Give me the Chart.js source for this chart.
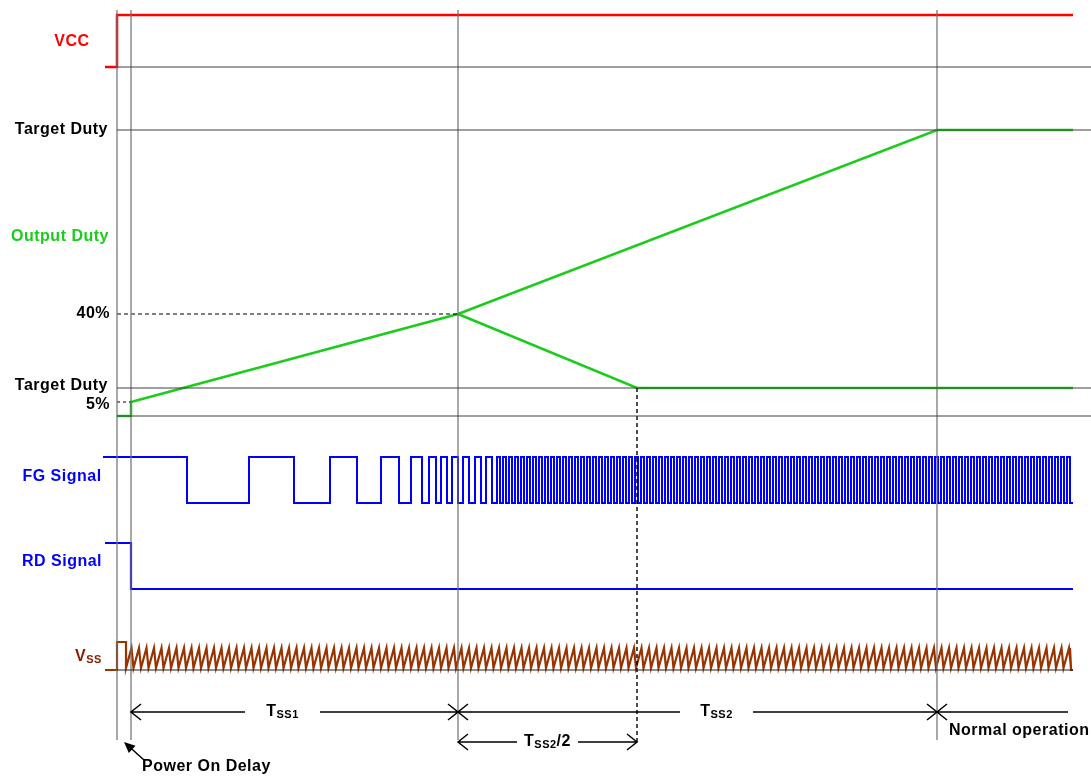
<!DOCTYPE html>
<html lang="en">
<head>
<meta charset="UTF-8">
<title>Soft Start Timing</title>
<script src="https://cdn.jsdelivr.net/npm/chart.js"></script>
<style>
  * { margin: 0; padding: 0; }
  body { background: #fff; width: 1091px; height: 776px; overflow: hidden; }
  canvas { display: block; }
</style>
</head>
<body>
<canvas id="timing" width="1091" height="776"></canvas>
<script>
// time marks (x units, 0 = power on)
const markTimes = [0, 14, 341, 820];          // power on, delay end, Tss1 end, Tss2 end
const halfTime = 520;                          // Tss2/2
const startTime = -12, stopTime = 956, edgeTime = 974;

// lane baselines (y units from the bottom)
const laneNames = ['vcc', 'duty', 'fg', 'rd', 'vss'];
const laneBase = [709, 360, 273, 187, 106];
const base = Object.fromEntries(laneNames.map((n, i) => [n, laneBase[i]]));

// VCC
const vccTimes = [startTime, 0, 0, stopTime];
const vccLevels = [0, 0, 52, 52];

// Output duty (lane units)
const dutyRiseTimes = [0, 14, 14, 341, 820, stopTime];
const dutyRiseValues = [0, 0, 14, 102, 286, 286];
const dutyFallTimes = [341, 520, stopTime];
const dutyFallValues = [102, 28, 28];
const dutyTickValues = [286, 102, 28, 14];
const dutyTickLabels = ['Target Duty', '40%', 'Target Duty', '5%'];

// FG signal: toggle times, then steady clock
const fgHigh = 46;
const fgEdgeTimes = [-14, 70, 132, 177, 213, 240, 264, 282, 294, 305, 312, 319, 324, 330, 335, 341, 346, 352, 358, 364, 369, 375, 380];
const fgHalfPeriod = 3;

// RD signal
const rdTimes = [startTime, 14, 14, stopTime];
const rdLevels = [46, 46, 0, 0];

// Vss soft-start
const vssTimes = [startTime, 0, 0, 9, 9];
const vssLevels = [0, 0, 28, 28, 2];
const vssSawLow = 2, vssSawHigh = 22, vssPeriod = 7.5, vssRise = 5.5;

const pts = (xs, ys, off) => xs.map((x, i) => ({ x, y: off + ys[i] }));

function fgPoints() {
  const out = [];
  let lvl = fgHigh;
  out.push({ x: fgEdgeTimes[0], y: base.fg + lvl });
  const edges = fgEdgeTimes.slice(1);
  for (let t = edges[edges.length - 1] + fgHalfPeriod; t < stopTime; t += fgHalfPeriod) edges.push(t);
  edges.forEach(t => {
    out.push({ x: t, y: base.fg + lvl });
    lvl = lvl ? 0 : fgHigh;
    out.push({ x: t, y: base.fg + lvl });
  });
  out.push({ x: stopTime, y: base.fg + lvl });
  return out;
}

function vssPoints() {
  const out = pts(vssTimes, vssLevels, base.vss);
  for (let t = 9; t + vssPeriod <= stopTime - 2; t += vssPeriod) {
    out.push({ x: t + vssRise, y: base.vss + vssSawHigh });
    out.push({ x: t + vssPeriod, y: base.vss + vssSawLow });
  }
  out.push({ x: stopTime - 3, y: base.vss + vssSawHigh });
  out.push({ x: stopTime - 2, y: base.vss });
  out.push({ x: stopTime, y: base.vss });
  return out;
}

const gridTop = 766, gridBottom = 36;
const line = (data, color, width, dash) => ({
  data, showLine: true, borderColor: color, borderWidth: width,
  borderDash: dash || [], pointRadius: 0, fill: false, tension: 0
});

const datasets = [];
// horizontal reference lines
[base.vcc, base.duty + 286, base.duty + 28, base.duty].forEach(y =>
  datasets.push(line([{ x: 0, y }, { x: edgeTime, y }], '#404040', 1)));
datasets.push(line([{ x: 0, y: base.vss }, { x: stopTime, y: base.vss }], '#202020', 1));
// vertical time marks
markTimes.forEach(x =>
  datasets.push(line([{ x, y: gridTop }, { x, y: gridBottom }], '#707070', 1.2)));
datasets.push(line([{ x: halfTime, y: base.duty + 28 }, { x: halfTime, y: 34 }], '#000', 1.4, [4, 3]));
datasets.push(line([{ x: 0, y: base.duty + 102 }, { x: 341, y: base.duty + 102 }], '#000', 1.2, [4, 3]));
datasets.push(line([{ x: 0, y: base.duty + 14 }, { x: 14, y: base.duty + 14 }], '#000', 1.2, [3, 3]));
// signals
datasets.push(line(pts(vccTimes, vccLevels, base.vcc), '#ff0000', 2.5));
datasets.push(line(pts(dutyRiseTimes, dutyRiseValues, base.duty), '#1ccc1c', 2.5));
datasets.push(line(pts(dutyFallTimes, dutyFallValues, base.duty), '#1ccc1c', 2.5));
datasets.push(line(fgPoints(), '#0000ff', 2));
datasets.push(line(pts(rdTimes, rdLevels, base.rd), '#0000ff', 2.2));
datasets.push(line(vssPoints(), '#993300', 2.2));

const labels = [
  { text: 'VCC', x: -45, y: 734, color: '#ff0000', align: 'center' },
  { text: 'Output Duty', x: -57, y: 539, color: '#1ccc1c', align: 'center' },
  { text: 'FG Signal', x: -55, y: base.fg + 26, color: '#0000ff', align: 'center' },
  { text: 'RD Signal', x: -55, y: base.rd + 27, color: '#0000ff', align: 'center' },
  { text: 'Normal operation', x: 832, y: 45, color: '#000', align: 'left' },
  { text: 'Power On Delay', x: 25, y: 9, color: '#000', align: 'left' }
];
dutyTickLabels.forEach((t, i) => labels.push({
  text: t, x: t.endsWith('%') ? -7 : -9, y: base.duty + dutyTickValues[i] + (i === 2 ? 2 : i === 3 ? -3 : 0),
  color: '#000', align: 'right'
}));

const spans = [
  { from: 14, to: 341, y: 64, sub: 'SS1', tail: '', gap: [128, 203], heads: [1, 1] },
  { from: 341, to: 820, y: 64, sub: 'SS2', tail: '', gap: [563, 636], heads: [1, 1] },
  { from: 820, to: 951, y: 64, heads: [1, 0] },
  { from: 341, to: 520, y: 34, sub: 'SS2', tail: '/2', gap: [400, 461], heads: [1, 1] }
];

const BIG = 'bold 16px "Liberation Sans", Arial, sans-serif';
const SMALL = 'bold 11px "Liberation Sans", Arial, sans-serif';

const annotate = {
  id: 'annotate',
  afterDatasetsDraw(chart) {
    const { ctx, scales: { x: sx, y: sy } } = chart;
    const X = v => sx.getPixelForValue(v), Y = v => sy.getPixelForValue(v);
    ctx.save();
    ctx.textBaseline = 'middle';
    ctx.letterSpacing = '0.5px';
    ctx.font = BIG;
    labels.forEach(l => {
      ctx.fillStyle = l.color; ctx.textAlign = l.align;
      ctx.fillText(l.text, X(l.x), Y(l.y));
    });
    // Vss label with subscript
    ctx.fillStyle = '#8b1a00'; ctx.textAlign = 'left';
    ctx.font = BIG;
    const vx = X(-42), vw = ctx.measureText('V').width;
    ctx.fillText('V', vx, Y(base.vss + 13));
    ctx.font = SMALL;
    ctx.fillText('SS', vx + vw, Y(base.vss + 10));

    ctx.strokeStyle = '#000'; ctx.lineWidth = 1.5;
    spans.forEach(s => {
      const y = Y(s.y), a = X(s.from), b = X(s.to);
      ctx.beginPath();
      if (s.gap) {
        ctx.moveTo(a, y); ctx.lineTo(X(s.gap[0]), y);
        ctx.moveTo(X(s.gap[1]), y); ctx.lineTo(b, y);
      } else { ctx.moveTo(a, y); ctx.lineTo(b, y); }
      if (s.heads[0]) { ctx.moveTo(a + 10, y - 8); ctx.lineTo(a, y); ctx.lineTo(a + 10, y + 8); }
      if (s.heads[1]) { ctx.moveTo(b - 10, y - 8); ctx.lineTo(b, y); ctx.lineTo(b - 10, y + 8); }
      ctx.stroke();
      if (s.sub) {
        const g0 = X(s.gap[0]), g1 = X(s.gap[1]);
        ctx.font = BIG;
        const wT = ctx.measureText('T').width, wTail = ctx.measureText(s.tail).width;
        ctx.font = SMALL;
        const wS = ctx.measureText(s.sub).width;
        const x0 = (g0 + g1) / 2 - (wT + wS + wTail) / 2;
        ctx.fillStyle = '#000'; ctx.textAlign = 'left';
        ctx.font = BIG;
        ctx.fillText('T', x0, y);
        ctx.font = SMALL;
        ctx.fillText(s.sub, x0 + wT, y + 3);
        ctx.font = BIG;
        ctx.fillText(s.tail, x0 + wT + wS, y);
      }
    });
    // power-on delay pointer
    const tx = X(7), ty = Y(34), fx = X(27), fy = Y(16);
    const ang = Math.atan2(ty - fy, tx - fx);
    ctx.beginPath(); ctx.moveTo(fx, fy); ctx.lineTo(tx - 6 * Math.cos(ang), ty - 6 * Math.sin(ang)); ctx.stroke();
    ctx.beginPath();
    ctx.moveTo(tx, ty);
    ctx.lineTo(tx - 11 * Math.cos(ang) + 5 * Math.sin(ang), ty - 11 * Math.sin(ang) - 5 * Math.cos(ang));
    ctx.lineTo(tx - 11 * Math.cos(ang) - 5 * Math.sin(ang), ty - 11 * Math.sin(ang) + 5 * Math.cos(ang));
    ctx.closePath(); ctx.fillStyle = '#000'; ctx.fill();
    ctx.restore();
  }
};

new Chart(document.getElementById('timing'), {
  type: 'scatter',
  data: { datasets },
  plugins: [annotate],
  options: {
    responsive: false,
    animation: false,
    layout: { padding: 0 },
    plugins: { legend: { display: false }, tooltip: { enabled: false } },
    scales: {
      x: { type: 'linear', min: -117, max: edgeTime, display: false },
      y: { type: 'linear', min: 0, max: 776, display: false }
    }
  }
});
</script>
</body>
</html>
